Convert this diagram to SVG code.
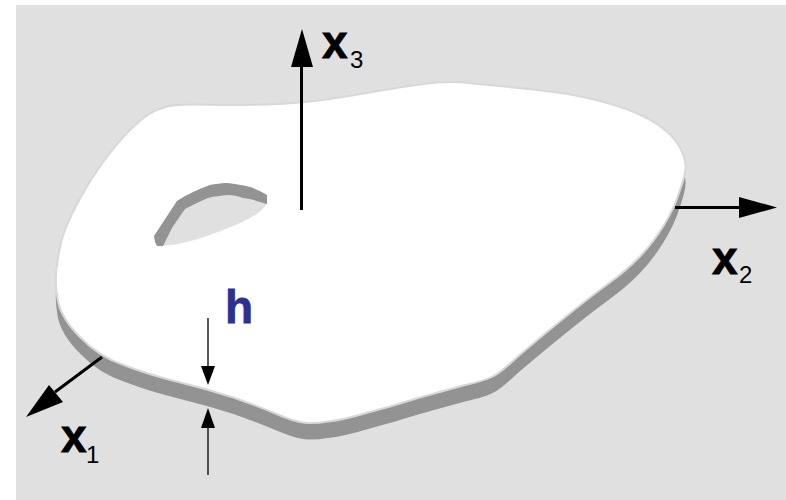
<svg xmlns="http://www.w3.org/2000/svg" width="786" height="500" viewBox="0 0 786 500">
<defs>
<path id="plate" d="M57.500 261.500Q60 243 65 230Q70 217 80 198.500Q90 180 103.500 161.500Q117 143 128.500 131.500Q140 120 148.500 114.500Q157 109 167 106.500Q177 104 197 104.500Q217 105 237 105Q257 105 279.500 104Q302 103 326 99.500Q350 96 375 91.500Q400 87 423.500 84Q447 80.500 473.500 83.500Q500 86 533.500 89.500Q567 93 592 99Q617 105 635 112.500Q653 120 665 130Q677 140 681 150Q686 160 685.500 166.500Q686 173 680 190Q675 207 664 225Q653 243 640 256.500Q627 270 608.500 283.500Q590 297 563.500 318.500Q537 340 518.500 356Q500 373 493.500 376Q487 380 465 385Q443 391 418 398Q393 406 368 412.500Q343 420 328 421.500Q313 424 303 422.500Q293 421 276.500 414Q260 407 233.500 397.500Q207 389 178.500 382Q150 375 125 365.500Q99 357 80 337Q60 317 57.500 298.500Q54 280 57.500 261.500Z"/>
</defs>
<style>
.ax{stroke:#000;stroke-width:3;fill:none}
.thin{stroke:#000;stroke-width:1.300;fill:none}
.head{fill:#000}
text{font-family:"Liberation Sans",Arial,sans-serif;font-weight:700;fill:#000}
.big{font-size:46px;stroke:#000;stroke-width:.8px}
.sub{font-size:24px;font-weight:400}
</style>
<rect x="16" y="5" width="770" height="495" fill="#e0e0e0"/>
<g id="plate-body">
<use href="#plate" y="16.500" fill="#939393"/>
<use href="#plate" fill="#fff" stroke="#d8d8d8" stroke-width="2"/>
</g>
<g id="hole">
<path d="M154 236L177 201L210 185L227 183L250 187L267 195L267 204C258 217 235 226 207 236C190 242 172 246 157 246Z" fill="#e0e0e0"/>
<path d="M154 236L177 201C188 194 198 189 210 185C216 184 221 183 227 183C236 184 243 185 250 187C256 189 262 192 267 195L267 204C260 202 252 199 243 198C238 196 233 195 228 195C221 196 214 196 208 198C200 201 193 205 185 209C180 216 176 222 172 228L163 246L157 246L155 242Z" fill="#939393"/>
</g>
<g id="connectors">
<path class="ax" d="M301.500 210V66"/><path class="head" d="M302 29L313 67H291Z"/>
<path class="ax" d="M675 207.500H740"/><path class="head" d="M777 207.500L739 197V218Z"/>
<path class="ax" d="M102 357L55 392"/><path class="head" d="M26 417L49 385L63 402Z"/>
<path class="thin" d="M208 318V367"/><path class="head" d="M208 385L201 366H215Z"/>
<path class="thin" d="M208 427V475"/><path class="head" d="M208 408L201 428H215Z"/>
</g>
<g id="label-x3"><text class="big" x="322" y="58">x</text><text class="sub" x="350" y="68">3</text></g>
<g id="label-x2"><text class="big" x="712" y="274">x</text><text class="sub" x="739" y="283">2</text></g>
<g id="label-x1"><text class="big" x="61" y="452">x</text><text class="sub" x="86" y="463">1</text></g>
<g id="label-h"><text class="big" x="225" y="323" style="fill:#2e3192;stroke:#2e3192">h</text></g>
</svg>
